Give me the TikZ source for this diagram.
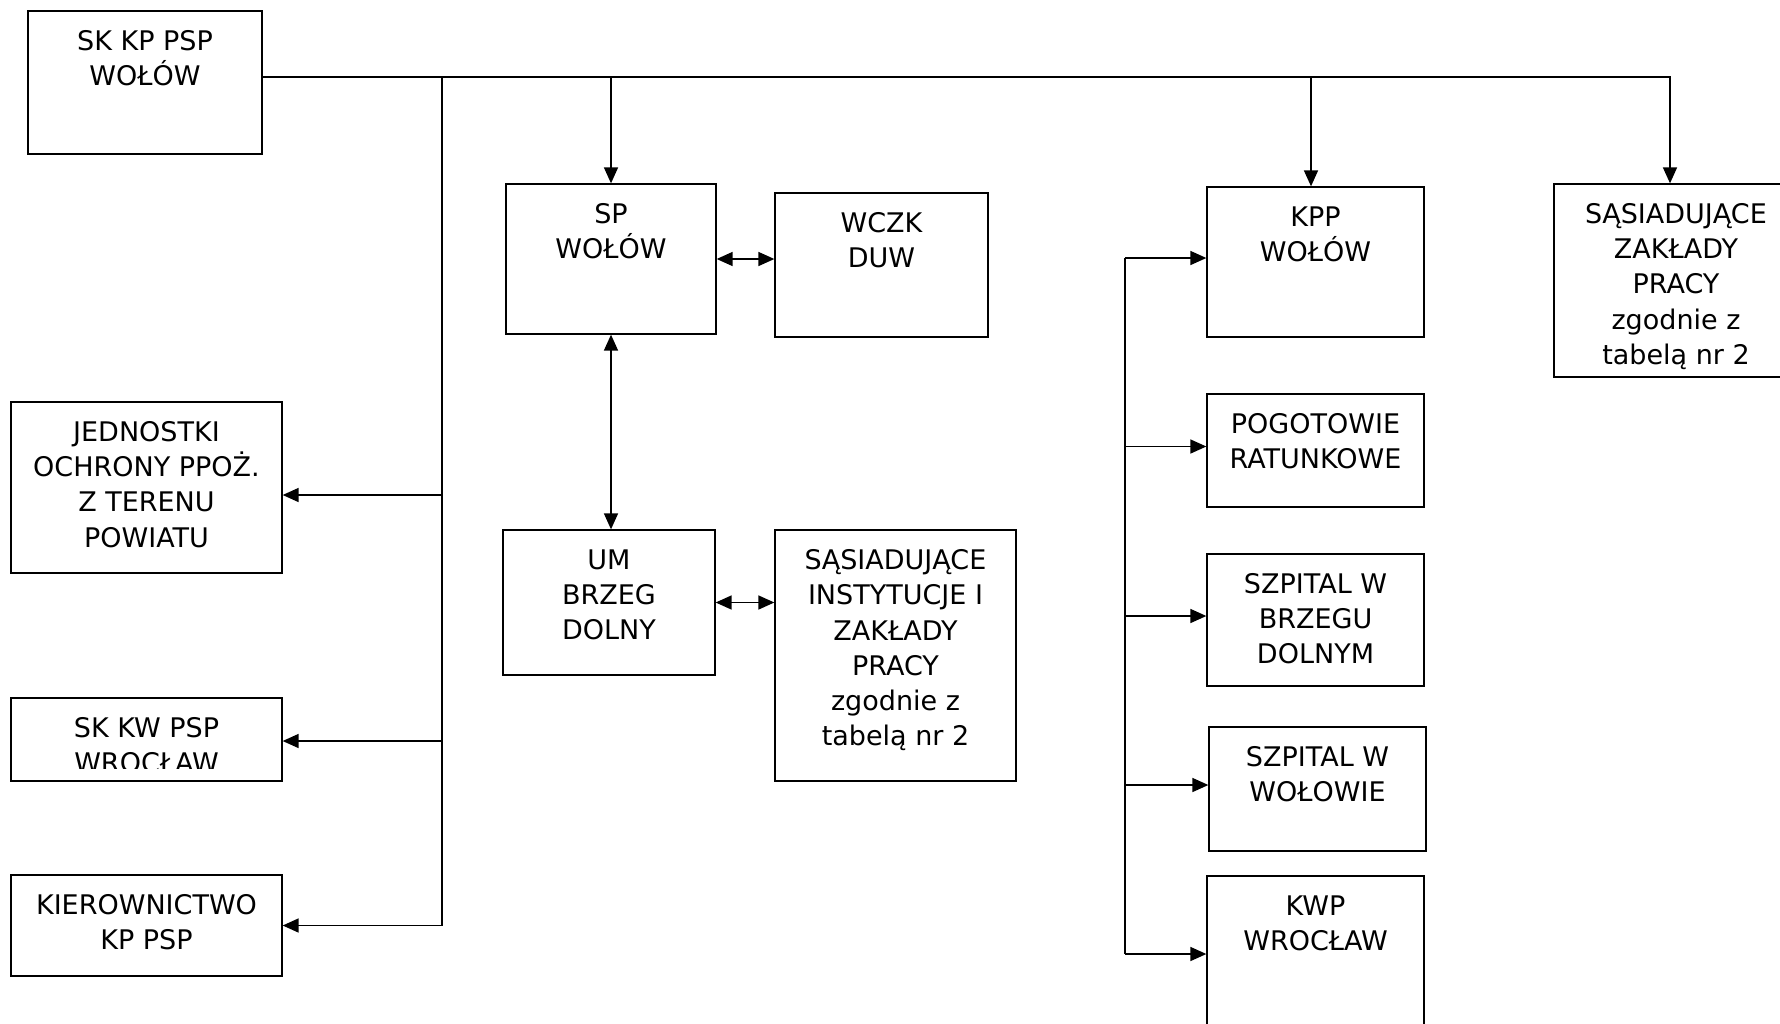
\documentclass[tikz,border=0pt]{standalone}
\usepackage{fontspec}
\setmainfont{DejaVu Sans}
\usetikzlibrary{arrows.meta, positioning, calc}

\begin{document}
\begin{tikzpicture}[x=1pt, y=-1pt,
   box/.style={draw, line width=1.3pt, inner sep=0pt},
   txt/.style={anchor=north, align=center, inner sep=0pt,
               font=\fontsize{27}{35.2}\selectfont},
   link/.style={line width=1.6pt},
   arr/.style={link, -{Triangle[length=16pt, width=14pt]}},
   darr/.style={link, {Triangle[length=16pt, width=14pt]}-{Triangle[length=16pt, width=14pt]}}]
  \useasboundingbox (0,0) rectangle (1780,1023);
  \clip (0,0) rectangle (1780,1023);
  \fill[white] (0,0) rectangle (1780,1023);

  % boxes
  \node[box, minimum width=234pt, minimum height=143pt] (skkp) at (145,82.5) {};
  \node[box, minimum width=210pt, minimum height=150pt] (sp)   at (611,259) {};
  \node[box, minimum width=213pt, minimum height=144pt] (wczk) at (881.5,265) {};
  \node[box, minimum width=212pt, minimum height=145pt] (um)   at (609,602.5) {};
  \node[box, minimum width=241pt, minimum height=251pt] (sasi) at (895.5,655.5) {};
  \node[box, minimum width=271pt, minimum height=171pt] (jedn) at (146.5,487.5) {};
  \node[box, minimum width=271pt, minimum height=83pt]  (skkw) at (146.5,739.5) {};
  \node[box, minimum width=271pt, minimum height=101pt] (kier) at (146.5,925.5) {};
  \node[box, minimum width=217pt, minimum height=150pt] (kpp)  at (1315.5,262) {};
  \node[box, minimum width=217pt, minimum height=113pt] (pogo) at (1315.5,450.5) {};
  \node[box, minimum width=217pt, minimum height=132pt] (szb)  at (1315.5,620) {};
  \node[box, minimum width=217pt, minimum height=124pt] (szw)  at (1317.5,789) {};
  \node[box, minimum width=217pt, minimum height=164pt] (kwp)  at (1315.5,958) {};
  \node[box, minimum width=244pt, minimum height=193pt] (zakl) at (1676,280.5) {};

  % texts
  \node[txt] (skkp-t) at ([yshift=-20pt]skkp.north) {SK KP PSP\\WOŁÓW};
  \node[txt] (sp-t)   at ([yshift=-20pt]sp.north)   {SP\\WOŁÓW};
  \node[txt] (wczk-t) at ([yshift=-20pt]wczk.north) {WCZK\\DUW};
  \node[txt] (um-t)   at ([yshift=-20pt]um.north)   {UM\\BRZEG\\DOLNY};
  \node[txt] (sasi-t) at ([yshift=-20pt]sasi.north)
     {SĄSIADUJĄCE\\INSTYTUCJE I\\ZAKŁADY\\PRACY\\zgodnie z\\tabelą nr 2};
  \node[txt] (jedn-t) at ([yshift=-20pt]jedn.north)
     {JEDNOSTKI\\OCHRONY PPOŻ.\\Z TERENU\\POWIATU};
  \begin{scope}
    \clip (skkw.north west) rectangle ([yshift=13pt]skkw.south east);
    \node[txt] (skkw-t) at ([yshift=-20pt]skkw.north) {SK KW PSP\\WROCŁAW};
  \end{scope}
  \node[txt] (kier-t) at ([yshift=-20pt]kier.north) {KIEROWNICTWO\\KP PSP};
  \node[txt] (kpp-t)  at ([yshift=-20pt]kpp.north)  {KPP\\WOŁÓW};
  \node[txt] (pogo-t) at ([yshift=-20pt]pogo.north) {POGOTOWIE\\RATUNKOWE};
  \node[txt] (szb-t)  at ([yshift=-20pt]szb.north)  {SZPITAL W\\BRZEGU\\DOLNYM};
  \node[txt] (szw-t)  at ([yshift=-20pt]szw.north)  {SZPITAL W\\WOŁOWIE};
  \node[txt] (kwp-t)  at ([yshift=-20pt]kwp.north)  {KWP\\WROCŁAW};
  \node[txt] (zakl-t) at ([yshift=-20pt]zakl.north)
     {SĄSIADUJĄCE\\ZAKŁADY\\PRACY\\zgodnie z\\tabelą nr 2};

  % main line and left bus
  \coordinate (j1) at (442,77);
  \coordinate (j3) at (1311,77);
  \coordinate (j4) at (1670,77);
  \draw[arr] (skkp.east |- j1) -- (j4) -- (j4 |- zakl.north);
  \draw[arr] (sp.north |- j1) -- (sp.north);
  \draw[arr] (j3) -- (j3 |- kpp.north);
  \draw[arr] (j1) -- (j1 |- kier) -- (kier.east);
  \draw[arr] ([yshift=-7.5pt]jedn.east -| j1) -- ([yshift=-7.5pt]jedn.east);
  \draw[arr] ([yshift=-1.5pt]skkw.east -| j1) -- ([yshift=-1.5pt]skkw.east);

  % links between offices
  \draw[darr] (sp.east) -- (sp.east -| wczk.west);
  \draw[darr] (sp.south) -- (sp.south |- um.north);
  \draw[darr] (um.east) -- (um.east -| sasi.west);

  % right bus
  \coordinate (rb) at (1125,0);
  \draw[link] ([yshift=4pt]kpp.west -| rb) -- ([yshift=4pt]kwp.west -| rb);
  \foreach \n in {kpp, pogo, szb, szw, kwp}
     \draw[arr] ([yshift=4pt]\n.west -| rb) -- ([yshift=4pt]\n.west);
\end{tikzpicture}
\end{document}
